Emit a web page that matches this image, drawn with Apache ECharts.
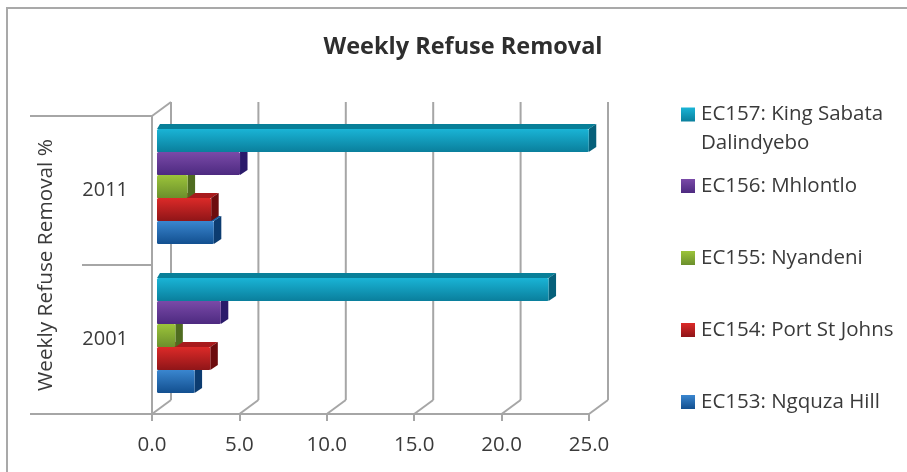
<!DOCTYPE html>
<html><head><meta charset="utf-8">
<script src="https://cdn.jsdelivr.net/npm/echarts@6/dist/echarts.min.js"></script>
<style>html,body{margin:0;padding:0;background:#fff}#c{width:907px;height:472px}</style>
</head><body><div id="c"></div>
<script>
const categories = ['2001', '2011'];
const axisTicks = [0, 5, 10, 15, 20, 25];
const ngquza = [2.15, 3.25];
const portStJohns = [3.05, 3.1];
const nyandeni = [1.05, 1.75];
const mhlontlo = [3.65, 4.75];
const kingSabata = [22.4, 24.7];
const seriesNames = ['EC153: Ngquza Hill', 'EC154: Port St Johns', 'EC155: Nyandeni', 'EC156: Mhlontlo', 'EC157: King Sabata Dalindyebo'];
const seriesValues = [ngquza, portStJohns, nyandeni, mhlontlo, kingSabata];
const palette = [
  {top:'#3a86cf', bot:'#124f8f', side:'#0c3c70', lid:'#1a5fa5'},
  {top:'#dc2a28', bot:'#8f1518', side:'#6d0c0e', lid:'#a81a1c'},
  {top:'#9cc43a', bot:'#6b8f2c', side:'#4f6c20', lid:'#7c9c30'},
  {top:'#7a4aa8', bot:'#4d2a80', side:'#2a1a6a', lid:'#553085'},
  {top:'#1ab4d6', bot:'#0a7f9c', side:'#06607a', lid:'#087f98'}
];
const legendCentres = [402, 330, 258, 186, 114.5];
const GREY = '#a6a6a6', TXT = '#3a3a3a', FONT = '"Open Sans", sans-serif';
const WALL = [19, -14];
const DEPTH = [7.5, -5];
const FRONT = [5, 0];
const GROUP_SHIFT = -4;

const grad = p => new echarts.graphic.LinearGradient(0, 0, 0, 1, [{offset:0,color:p.top},{offset:1,color:p.bot}]);

function barSeries(name, values, idx) {
  return {
    type: 'custom', name, coordinateSystem: 'cartesian2d', z: 2,
    itemStyle: {color: grad(palette[idx])},
    encode: {x: 0, y: 1},
    data: values.map((v, i) => [v, categories[i]]),
    renderItem(params, api) {
      const p = palette[idx];
      const end = api.coord([api.value(0), params.dataIndex]);
      const base = api.coord([0, params.dataIndex]);
      const band = api.size([0, 1])[1];
      const h = band * 0.7733 / seriesNames.length;
      const groupBottom = base[1] + GROUP_SHIFT + h * seriesNames.length / 2;
      const y1 = groupBottom - h * idx, y0 = y1 - h;
      const x0 = base[0] + FRONT[0], x1 = end[0] + FRONT[0];
      const d = DEPTH;
      return {type: 'group', children: [
        {type:'polygon', shape:{points:[[x0,y0],[x1,y0],[x1+d[0],y0+d[1]],[x0+3,y0+d[1]]]}, style:{fill:p.lid}},
        {type:'polygon', shape:{points:[[x1,y0],[x1+d[0],y0+d[1]],[x1+d[0],y1+d[1]],[x1,y1]]}, style:{fill:p.side}},
        {type:'rect', shape:{x:x0,y:y0,width:x1-x0,height:h,r:1.5}, style:{fill:grad(p)}}
      ]};
    }
  };
}

const frame = {
  type: 'custom', silent: true, z: 1,
  data: axisTicks.map(t => [t, 0]),
  encode: {x: 0, y: 1},
  renderItem(params, api) {
    const t = api.value(0);
    const c0 = api.coord([t, 0]), c1 = api.coord([t, 1]);
    const band = c0[1] - c1[1];
    const x = c0[0], topY = c1[1] - band / 2, botY = c0[1] + band / 2, midY = (c0[1] + c1[1]) / 2;
    const ls = {stroke: GREY, lineWidth: 2, fill: 'none'};
    const L = (x1, y1, x2, y2) => ({type:'line', shape:{x1,y1,x2,y2}, style:ls});
    const kids = [
      L(x, botY, x + WALL[0], botY + WALL[1]),
      L(x + WALL[0], botY + WALL[1], x + WALL[0], topY + WALL[1])
    ];
    if (t === 0) kids.push(
      L(x, topY, x + WALL[0], topY + WALL[1]),
      L(x, topY, x, botY),
      L(x, topY, x - 122, topY),
      L(x, botY, x - 122, botY),
      L(x, midY, x - 70, midY)
    );
    return {type:'group', children:kids};
  }
};

const legends = seriesNames.map((n, i) => ({
  data: [n], left: 681, top: legendCentres[i] - 11, orient: 'vertical', padding: 0,
  itemWidth: 14, itemHeight: 14, itemGap: 0, icon: 'rect', selectedMode: false,
  textStyle: {color: TXT, fontFamily: FONT, fontSize: 20.5, lineHeight: 22, padding: [0,0,0,1]},
  formatter: s => s.replace(' Dalindyebo', '')
}));

const chart = echarts.init(document.getElementById('c'), null, {renderer: 'canvas'});
chart.setOption({
  animation: false, backgroundColor: '#fff',
  title: {text: 'Weekly Refuse Removal', left: 458, top: 30, textAlign: 'center',
    textStyle: {fontFamily: FONT, fontSize: 23.5, fontWeight: 'bold', color: '#2e2e2e'}},
  legend: legends,
  grid: {left: 152, top: 116, width: 437, height: 298, containLabel: false},
  xAxis: {type: 'value', min: 0, max: 25, interval: 5,
    axisLine: {show: true, onZero: false, lineStyle: {color: GREY, width: 2}},
    axisTick: {show: true, length: 7, lineStyle: {color: GREY, width: 2}},
    splitLine: {show: false},
    axisLabel: {margin: 21, color: TXT, fontFamily: FONT, fontSize: 20.5, formatter: v => v.toFixed(1)}},
  yAxis: {type: 'category', data: categories,
    name: 'Weekly Refuse Removal %', nameLocation: 'middle', nameRotate: 90, nameGap: 95,
    nameTextStyle: {color: TXT, fontFamily: FONT, fontSize: 20.8},
    axisLine: {show: false},
    axisTick: {show: false},
    axisLabel: {margin: 24, color: TXT, fontFamily: FONT, fontSize: 20, padding: [6,0,0,0]}},
  graphic: [
    {type:'polyline', silent:true, shape:{points:[[7,472],[7,8],[907,8]]}, style:{stroke:'#a9a9a9', lineWidth:2, fill:'none'}},
    {type:'text', silent:true, left: 701, top: 133, style:{text:'Dalindyebo', fill:TXT, font:'20.5px "Open Sans", sans-serif'}}
  ],
  series: [frame].concat(seriesValues.map((v, i) => barSeries(seriesNames[i], v, i)))
});
</script></body></html>
